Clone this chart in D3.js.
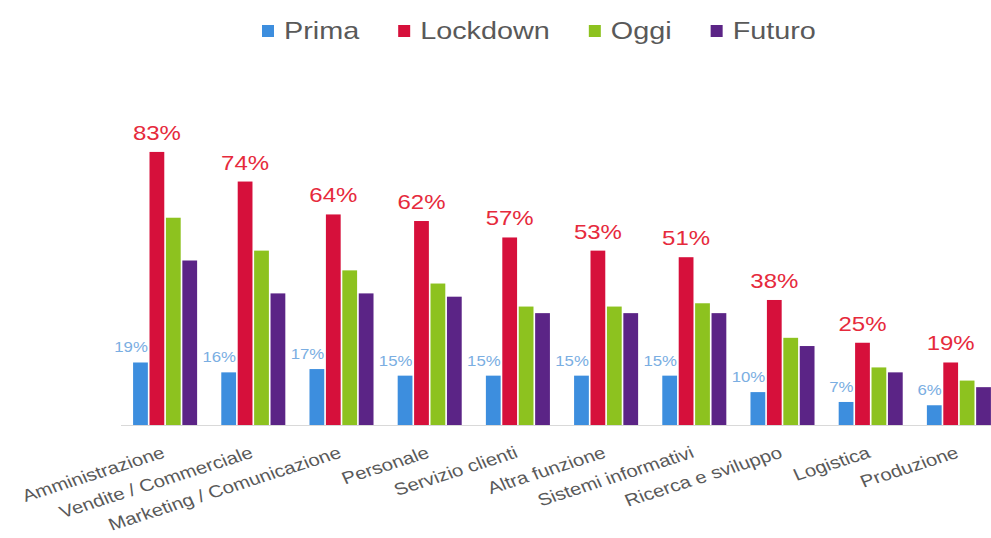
<!DOCTYPE html>
<html>
<head>
<meta charset="utf-8">
<script src="https://cdn.jsdelivr.net/npm/d3@7"></script>
<style>
  body { margin: 0; background: #fff; }
  svg { display: block; font-family: "Liberation Sans", Arial, sans-serif; }
</style>
</head>
<body>
<svg id="chart" width="991" height="538"></svg>
<script>
// data read off the picture (Oggi / Futuro are estimated from bar heights)
const categories = ["Amministrazione", "Vendite / Commerciale", "Marketing / Comunicazione", "Personale",
  "Servizio clienti", "Altra funzione", "Sistemi informativi", "Ricerca e sviluppo", "Logistica", "Produzione"];
const seriesNames = ["Prima", "Lockdown", "Oggi", "Futuro"];
const prima    = [19, 16, 17, 15, 15, 15, 15, 10, 7, 6];
const lockdown = [83, 74, 64, 62, 57, 53, 51, 38, 25, 19];
const oggi     = [63, 53, 47, 43, 36, 36, 37, 26.5, 17.5, 13.5];
const futuro   = [50, 40, 40, 39, 34, 34, 34, 24, 16, 11.5];

const colors = { Prima: "#3d8ede", Lockdown: "#d6103b", Oggi: "#8dc21f", Futuro: "#5b2486" };
const values = { Prima: prima, Lockdown: lockdown, Oggi: oggi, Futuro: futuro };

const W = 991, H = 538;
const baseY = 425;
const stretch = 1.2; // the source picture is a bit wider than tall

const svg = d3.select("#chart");

const x0 = d3.scaleBand()
  .domain(categories)
  .range([121, 1003])
  .paddingInner(0.274)
  .paddingOuter(0.137);

const x1 = d3.scaleBand()
  .domain(seriesNames)
  .range([0, x0.bandwidth()])
  .paddingInner(0.1);

const y = d3.scaleLinear().domain([0, 100]).range([baseY, baseY - 329]);

// baseline
svg.append("line")
  .attr("x1", 121).attr("x2", W)
  .attr("y1", baseY + 0.5).attr("y2", baseY + 0.5)
  .attr("stroke", "#d9d9d9").attr("stroke-width", 1);

const rows = categories.map((c, i) => ({ cat: c, i }));

const groups = svg.append("g")
  .selectAll("g")
  .data(rows)
  .join("g")
  .attr("transform", d => `translate(${x0(d.cat)},0)`);

groups.selectAll("rect")
  .data(d => seriesNames.map(s => ({ s, v: values[s][d.i] })))
  .join("rect")
  .attr("x", d => x1(d.s))
  .attr("width", x1.bandwidth())
  .attr("y", d => y(d.v))
  .attr("height", d => baseY - y(d.v))
  .attr("fill", d => colors[d.s]);

// Lockdown labels
groups.append("text")
  .attr("transform", d => `translate(${x1("Lockdown") + x1.bandwidth() / 2},${y(lockdown[d.i]) - 12}) scale(${stretch},1)`)
  .attr("text-anchor", "middle")
  .attr("font-size", 20)
  .attr("fill", "#e62a3c")
  .text(d => lockdown[d.i] + "%");

// Prima labels
groups.append("text")
  .attr("transform", d => `translate(${x1("Prima") + x1.bandwidth()},${y(prima[d.i]) - 10}) scale(${stretch},1)`)
  .attr("text-anchor", "end")
  .attr("font-size", 14)
  .attr("fill", "#7aaee2")
  .text(d => prima[d.i] + "%");

// category labels
svg.append("g")
  .selectAll("text")
  .data(categories)
  .join("text")
  .attr("transform", d => `translate(${x0(d) + x0.bandwidth() / 2 + 1},457) scale(${stretch},1) rotate(-21)`)
  .attr("text-anchor", "end")
  .attr("font-size", 17)
  .attr("fill", "#595959")
  .text(d => d);

// legend
const legend = svg.append("g").attr("transform", "translate(262,0)");
let lx = 0;
seriesNames.forEach(s => {
  legend.append("rect")
    .attr("x", lx).attr("y", 25)
    .attr("width", 12).attr("height", 12)
    .attr("fill", colors[s]);
  const t = legend.append("text")
    .attr("transform", `translate(${lx + 22},39) scale(${stretch},1)`)
    .attr("font-size", 24)
    .attr("fill", "#595959")
    .text(s);
  lx += 22 + t.node().getComputedTextLength() * stretch + 39;
});
</script>
</body>
</html>
